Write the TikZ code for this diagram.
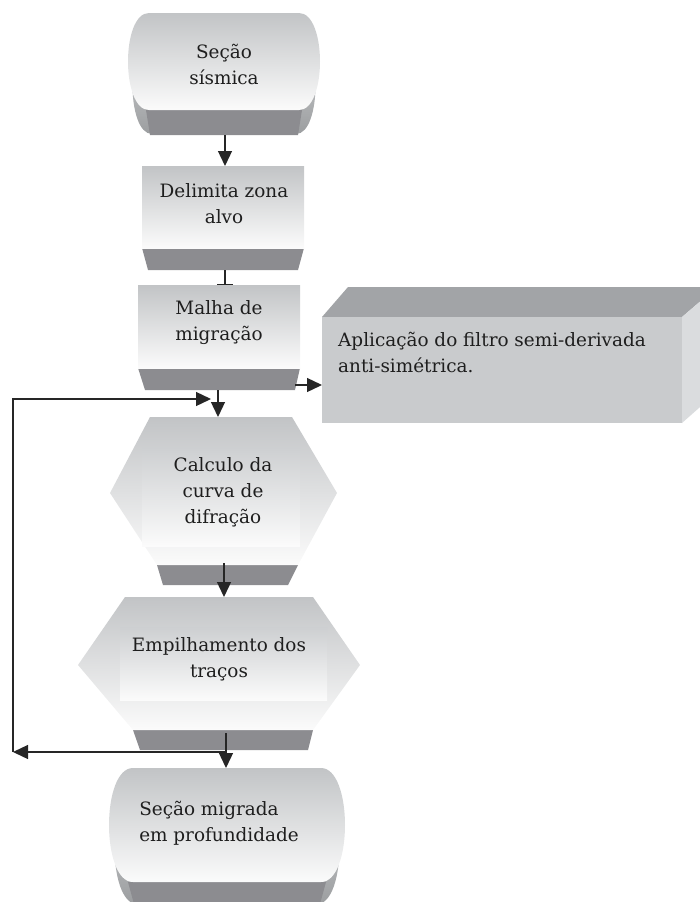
\documentclass[tikz,border=0pt]{standalone}
\usepackage{fontspec}
\setmainfont{DejaVu Serif}
\usetikzlibrary{arrows.meta}

\definecolor{facetop}{HTML}{C2C4C6}
\definecolor{facebot}{HTML}{FBFBFB}
\definecolor{innertop}{HTML}{CDCFD1}
\definecolor{bandgray}{HTML}{8C8C90}
\definecolor{bevtop}{HTML}{D2D4D6}
\definecolor{bevbot}{HTML}{9C9EA0}
\definecolor{boxtop}{HTML}{A2A4A7}
\definecolor{boxfront}{HTML}{C9CBCD}
\definecolor{boxside}{HTML}{DADCDE}
\definecolor{txtgray}{HTML}{1E1E1E}

\begin{document}
\begin{tikzpicture}[x=1pt,y=-1pt,>={Triangle[length=15pt,width=14pt]},
    face/.style={top color=facetop,bottom color=facebot},
    inner/.style={top color=innertop,bottom color=facebot},
    band/.style={fill=bandgray},
    bevel/.style={top color=bevtop,bottom color=bevbot},
    txt/.style={font=\fontsize{18.4}{26}\selectfont,align=center,text=txtgray,inner sep=0pt},
    link/.style={->,line width=1.3pt,draw=black!85}]
      \useasboundingbox (0,0) rectangle (699,902);
      \coordinate (secao-s) at (225,135);
      \coordinate (delimita-n) at (225,166);
      \coordinate (delimita-s) at (225,270);
      \coordinate (malha-n) at (225,285);
      \coordinate (malha-s) at (218,390);
      \coordinate (malha-e) at (295,385);
      \coordinate (filtro-w) at (322,385);
      \coordinate (calculo-n) at (218,417);
      \coordinate (calculo-s) at (224,563);
      \coordinate (empilha-n) at (224,597);
      \coordinate (empilha-s) at (226,733);
      \coordinate (migrada-n) at (226,768);
      \coordinate (volta) at (226,752);
      \coordinate (volta-sw) at (13,752);
      \coordinate (volta-nw) at (13,399);
      \coordinate (malha-in) at (211,399);
      % terminal de entrada
      \path[bevel] (152,37) -- (296,37) .. controls (322,37) and (322,134) .. (296,134)
            -- (152,134) .. controls (126,134) and (126,37) .. (152,37) -- cycle;
      \path[band] (146,110) -- (302,110) -- (298,135) -- (150,135) -- cycle;
      \path[face] (149,13) -- (299,13) .. controls (327,13) and (327,110) .. (299,110)
            -- (149,110) .. controls (121,110) and (121,13) .. (149,13) -- cycle;
      \node[txt] (secao) at (224,64) {Seção\\sísmica};
      % processos
      \path[band] (142,248) -- (304,248) -- (298,270) -- (148,270) -- cycle;
      \path[face] (142,166) rectangle (304,248);
      \node[txt] (delimita) at (224,204) {Delimita zona\\alvo};
      \path[band] (138,368) -- (300,368) -- (295,390) -- (145,390) -- cycle;
      \path[face] (138,285) rectangle (300,368);
      \node[txt] (malha) at (219,323) {Malha de\\migração};
      % caixa 3D
      \path[fill=boxtop] (322,317) -- (348,287) -- (717,287) -- (682,317) -- cycle;
      \path[fill=boxside] (682,317) -- (717,287) -- (717,392) -- (682,423) -- cycle;
      \path[fill=boxfront] (322,317) rectangle (682,423);
      \node[txt,align=left,anchor=west] (filtro) at (338,352)
            {Aplicação do filtro semi-derivada\\anti-simétrica.};
      % hexagonos
      \path[band] (157,565) -- (298,565) -- (288,585) -- (163,585) -- cycle;
      \path[face] (150,417) -- (292,417) -- (337,493) -- (298,565) -- (157,565) -- (110,493) -- cycle;
      \path[inner] (142,447) rectangle (300,546);
      \node[txt] (calculo) at (223,492) {Calculo da\\curva de\\difração};
      \path[band] (133,730) -- (313,730) -- (308,750) -- (140,750) -- cycle;
      \path[face] (125,597) -- (313,597) -- (360,665) -- (313,730) -- (133,730) -- (78,665) -- cycle;
      \path[inner] (120,627) rectangle (327,700);
      \node[txt] (empilha) at (219,659) {Empilhamento dos\\traços};
      % terminal de saida
      \path[bevel] (137,790) -- (317,790) .. controls (347,790) and (347,904) .. (317,904)
            -- (137,904) .. controls (107,904) and (107,790) .. (137,790) -- cycle;
      \path[band] (128,882) -- (326,882) -- (320,904) -- (134,904) -- cycle;
      \path[face] (133,768) -- (321,768) .. controls (353,768) and (353,882) .. (321,882)
            -- (133,882) .. controls (101,882) and (101,768) .. (133,768) -- cycle;
      \node[txt,align=left] (migrada) at (219,823) {Seção migrada\\em profundidade};
      % conectores
      \draw[link] (secao-s) -- (delimita-n);
      \draw[link,-{Bar[width=16pt]}] (delimita-s) -- (malha-n);
      \draw[link] (malha-s) -- (calculo-n);
      \draw[link] (malha-e) -- (filtro-w);
      \draw[link] (calculo-s) -- (empilha-n);
      \draw[link] (empilha-s) -- (migrada-n);
      \draw[link] (volta) -- (volta-sw);
      \draw[link] (volta-sw) -- (volta-nw) -- (malha-in);
\end{tikzpicture}
\end{document}
